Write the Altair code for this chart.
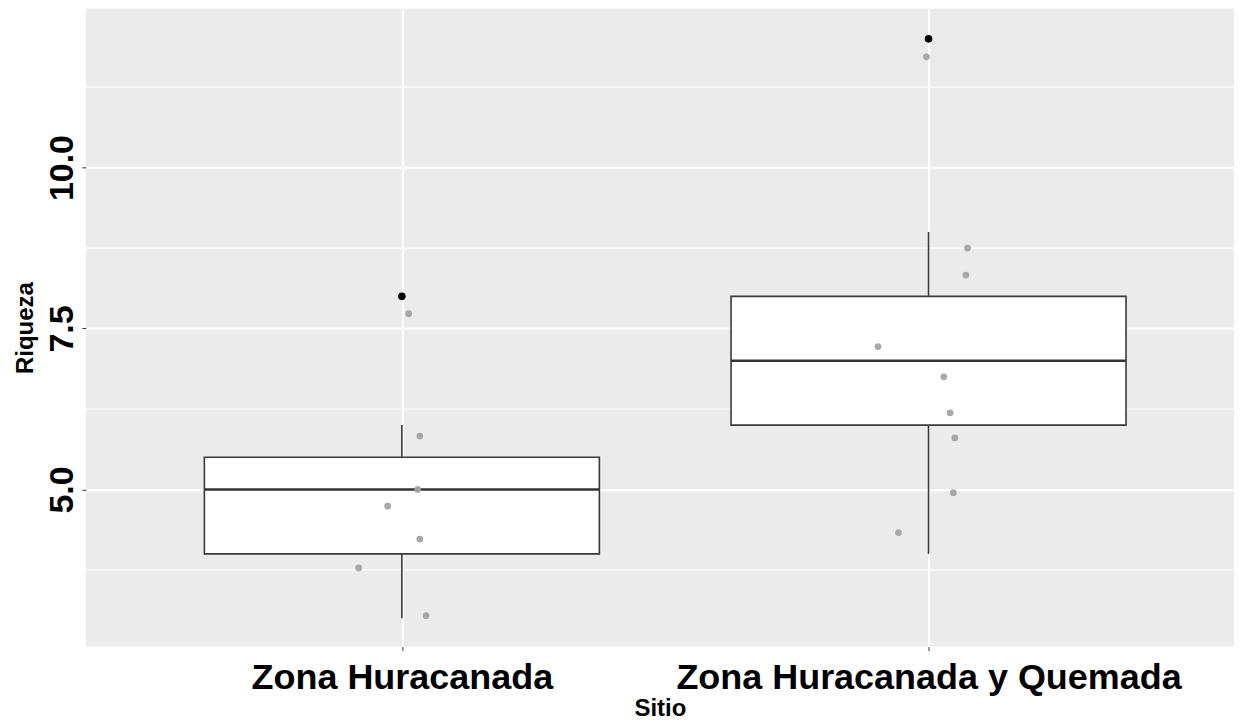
import altair as alt
import pandas as pd

# ---- data ----
sitios = ["Zona Huracanada", "Zona Huracanada y Quemada"]
posicion = [1, 2]
q1 = [4.0, 6.0]
mediana = [5.0, 7.0]
q3 = [5.5, 8.0]
bigote_inf = [3.0, 4.0]
bigote_sup = [6.0, 9.0]

atipico_pos = [1, 2]
atipico_valor = [8.0, 12.0]

puntos_pos = [1, 1, 1, 1, 1, 1, 1, 2, 2, 2, 2, 2, 2, 2, 2, 2]
puntos_valor = [7.73, 5.83, 5.0, 4.74, 4.23, 3.78, 3.04,
                11.72, 8.75, 8.33, 7.22, 6.75, 6.19, 5.8, 4.95, 4.33]
puntos_desplaz = [0.013, 0.034, 0.030, -0.027, 0.034, -0.082, 0.046,
                  -0.004, 0.074, 0.071, -0.096, 0.029, 0.041, 0.050, 0.047, -0.057]

y_ticks = [5.0, 7.5, 10.0]
y_minor = [3.75, 6.25, 8.75, 11.25]
y_dominio = [2.56, 12.47]
x_dominio = [0.4, 2.58]
ancho_caja = 0.75

# ---- tables ----
cajas = pd.DataFrame({
    "pos": posicion,
    "x0": [p - ancho_caja / 2 for p in posicion],
    "x1": [p + ancho_caja / 2 for p in posicion],
    "q1": q1, "med": mediana, "q3": q3, "lo": bigote_inf, "hi": bigote_sup,
})
atipicos = pd.DataFrame({"pos": atipico_pos, "v": atipico_valor})
puntos = pd.DataFrame({
    "xj": [p + d for p, d in zip(puntos_pos, puntos_desplaz)],
    "v": puntos_valor,
})
menores = pd.DataFrame({"v": y_minor})

FONT = "Liberation Sans"
label_expr = " : ".join(
    [f"datum.value == {p} ? '{s}'" for p, s in zip(posicion[:-1], sitios[:-1])]
    + [f"'{sitios[-1]}'"]
)

xscale = alt.Scale(domain=x_dominio, nice=False, zero=False)
yscale = alt.Scale(domain=y_dominio, nice=False, zero=False)

xaxis = alt.Axis(
    values=posicion, labelExpr=label_expr, title="Sitio",
    grid=True, gridColor="white", gridWidth=2, domain=False,
    tickColor="#333333", tickSize=4, tickWidth=1,
    labelPadding=10, labelFont=FONT, labelFontWeight="bold", labelFontSize=36,
    labelColor="black", labelFlush=False, labelOverlap=False, labelLimit=0,
    titleFont=FONT, titleFontWeight="bold", titleFontSize=24, titleColor="black",
    titlePadding=1,
)
yaxis = alt.Axis(
    values=y_ticks, format=".1f", title="Riqueza",
    grid=True, gridColor="white", gridWidth=2, domain=False,
    tickColor="#333333", tickSize=4, tickWidth=1,
    labelAngle=270, labelAlign="center", labelBaseline="bottom",
    labelPadding=2, labelFont=FONT, labelFontWeight="bold", labelFontSize=34,
    labelColor="black", labelFlush=False, labelOverlap=False, labelLimit=0,
    titleFont=FONT, titleFontWeight="bold", titleFontSize=24, titleColor="black",
    titlePadding=8,
)

def X(field):
    return alt.X(field, type="quantitative", scale=xscale, axis=xaxis)

def Y(field):
    return alt.Y(field, type="quantitative", scale=yscale, axis=yaxis)

grid_menor = alt.Chart(menores).mark_rule(color="white", strokeWidth=1.2).encode(
    y=Y("v")
)

bigote_bajo = alt.Chart(cajas).mark_rule(color="#3a3a3a", strokeWidth=1.6).encode(
    x=X("pos"), y=Y("lo"), y2="q1"
)
bigote_alto = alt.Chart(cajas).mark_rule(color="#3a3a3a", strokeWidth=1.6).encode(
    x=X("pos"), y=Y("q3"), y2="hi"
)
caja = alt.Chart(cajas).mark_rect(
    fill="white", stroke="#3a3a3a", strokeWidth=1.6
).encode(x=X("x0"), x2="x1", y=Y("q1"), y2="q3")
med = alt.Chart(cajas).mark_rule(color="#333333", strokeWidth=2.6).encode(
    x=X("x0"), x2="x1", y=Y("med")
)
outl = alt.Chart(atipicos).mark_circle(color="black", opacity=1, size=58).encode(
    x=X("pos"), y=Y("v")
)
jit = alt.Chart(puntos).mark_circle(color="#a3a3a3", opacity=0.95, size=46).encode(
    x=X("xj"), y=Y("v")
)

chart = alt.layer(
    grid_menor, bigote_bajo, bigote_alto, caja, med, outl, jit
).properties(
    width=1150, height=639,
    padding={"left": 6, "top": 0, "right": 0, "bottom": 0},
    background="white",
).configure_view(fill="#EBEBEB", strokeWidth=0)

chart.save("out.html", embed_options={"renderer": "svg", "actions": False})
